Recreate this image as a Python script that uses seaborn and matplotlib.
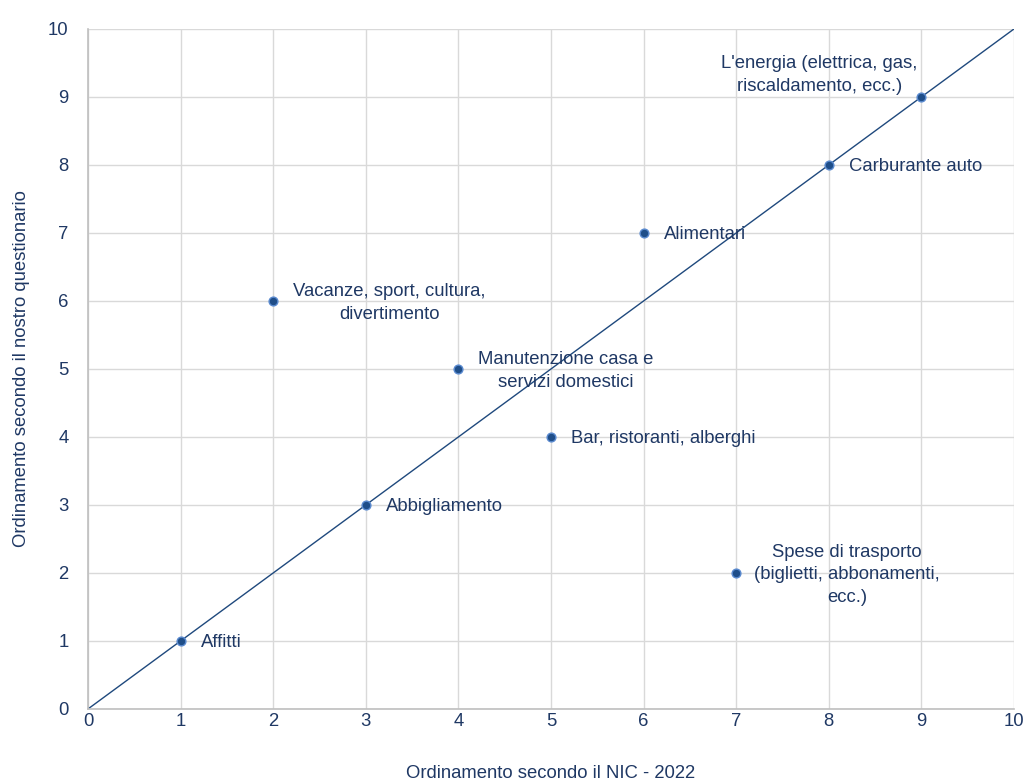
import matplotlib
matplotlib.use("Agg")
import matplotlib.pyplot as plt
import matplotlib.font_manager as fm
import seaborn as sns
import pandas as pd

# ranking data
categorie = ["Affitti", "Vacanze, sport, cultura,\ndivertimento", "Abbigliamento",
             "Manutenzione casa e\nservizi domestici", "Bar, ristoranti, alberghi",
             "Alimentari", "Spese di trasporto\n(biglietti, abbonamenti,\necc.)",
             "Carburante auto", "L'energia (elettrica, gas,\nriscaldamento, ecc.)"]
rank_nic = [1, 2, 3, 4, 5, 6, 7, 8, 9]
rank_questionario = [1, 6, 3, 5, 4, 7, 2, 8, 9]

# label offsets in pixels (dx, dy, ha)
offsets = [(20, -2, "left"), (20, -2, "left"), (20, -2, "left"), (20, -2, "left"),
           (20, -2, "left"), (20, -2, "left"), (18, -2, "left"), (20, -2, "left"),
           (-102, 22, "center")]

sns.set_style("white")
names = {f.name for f in fm.fontManager.ttflist}
fam = "Liberation Sans Narrow" if "Liberation Sans Narrow" in names else "Liberation Sans"
plt.rcParams["font.family"] = [fam, "DejaVu Sans"]

txt = "#1F3864"
fs = 13.3
df = pd.DataFrame({"nic": rank_nic, "q": rank_questionario, "cat": categorie})

fig = plt.figure(figsize=(10.24, 7.81), dpi=100)
ax = fig.add_axes([0.0859, 0.0922, 0.9043, 0.8707])

ax.axline((0, 0), slope=1, color="#1F497D", lw=1, zorder=2)
sns.scatterplot(data=df, x="nic", y="q", ax=ax, s=40, color="#1F4E89",
                edgecolor="#5B8BD0", linewidth=1, zorder=3)

for i, row in df.iterrows():
    dx, dy, ha = offsets[i]
    ax.annotate(row["cat"], (row["nic"], row["q"]), xytext=(dx, dy),
                textcoords="offset pixels", ha=ha, va="center",
                multialignment="center", fontsize=fs, color=txt,
                linespacing=1.45)

ax.set_xlim(0, 10)
ax.set_ylim(0, 10)
ax.set_xticks(range(0, 11))
ax.set_yticks(range(0, 11))
ax.grid(True, color="#D9D9D9", lw=1)
ax.set_axisbelow(True)
for s in ["top", "right"]:
    ax.spines[s].set_visible(False)
for s in ["left", "bottom"]:
    ax.spines[s].set_color("#BFBFBF")
    ax.spines[s].set_linewidth(1.2)
ax.tick_params(length=0, labelsize=fs, labelcolor=txt)
ax.tick_params(axis="x", pad=3)
ax.tick_params(axis="y", pad=14)
ax.set_xlabel("Ordinamento secondo il NIC - 2022", fontsize=fs, color=txt, labelpad=25)
ax.set_ylabel("Ordinamento secondo il nostro questionario", fontsize=fs, color=txt, labelpad=13)

fig.savefig("out.png", dpi=100)
